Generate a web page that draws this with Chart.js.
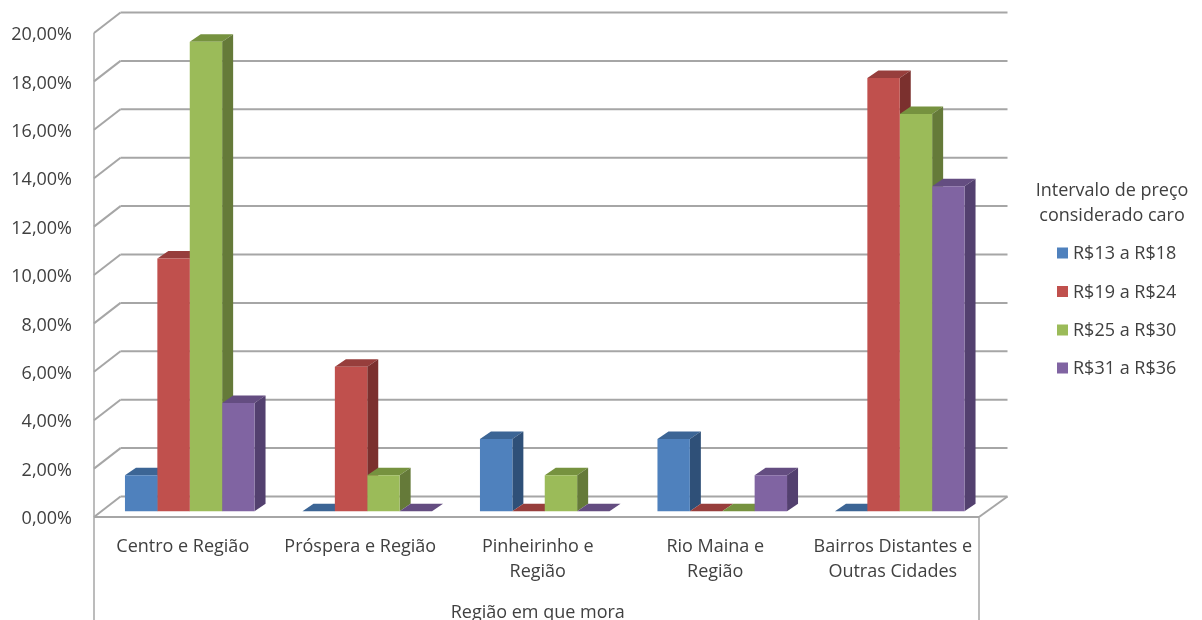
<!DOCTYPE html>
<html lang="pt-BR">
<head>
<meta charset="utf-8">
<title>Intervalo de preço considerado caro</title>
<script src="https://cdn.jsdelivr.net/npm/chart.js@4"></script>
<style>
  html, body { margin: 0; padding: 0; background: #fff; overflow: hidden; }
  canvas { display: block; }
</style>
</head>
<body>
<canvas id="chart" width="1202" height="620"></canvas>
<script>
const categories = [
  'Centro e Região',
  'Próspera e Região',
  ['Pinheirinho e', 'Região'],
  ['Rio Maina e', 'Região'],
  ['Bairros Distantes e', 'Outras Cidades']
];
const seriesNames = ['R$13 a R$18', 'R$19 a R$24', 'R$25 a R$30', 'R$31 a R$36'];
const r13a18 = [1.49, 0, 2.99, 2.99, 0];
const r19a24 = [10.45, 5.97, 0, 0, 17.91];
const r25a30 = [19.40, 1.49, 1.49, 0, 16.42];
const r31a36 = [4.48, 0, 0, 1.49, 13.43];
const seriesValues = [r13a18, r19a24, r25a30, r31a36];

const frontColors = ['#4f81bd', '#c0504d', '#9bbb59', '#8064a2'];
const topColors = ['#3c6595', '#973e3c', '#76923f', '#644d81'];
const sideColors = ['#2f5078', '#7b302e', '#657a39', '#53406f'];

const legendTitle = ['Intervalo de preço', 'considerado caro'];
const axisTitle = 'Região em que mora';

const textColor = '#404040';
const lineColor = '#a6a6a6';
const fontFamily = '"Open Sans", sans-serif';
const fontSize = 18;

// wall and floor depth, measured from the front axes
const wallDx = 26.5, wallDy = 20.5;
const wallRight = 979;
const chartBottom = 620;
// where the bars' front faces sit inside that depth, and the depth of a bar
const barShiftX = 7, barShiftY = 5.7;
const barDx = 11, barDy = 7.5;

function line(ctx, x1, y1, x2, y2) {
  ctx.beginPath();
  ctx.moveTo(x1, y1);
  ctx.lineTo(x2, y2);
  ctx.stroke();
}

function face(ctx, color, points) {
  ctx.fillStyle = color;
  ctx.beginPath();
  points.forEach((p, i) => i ? ctx.lineTo(p[0], p[1]) : ctx.moveTo(p[0], p[1]));
  ctx.closePath();
  ctx.fill();
}

const box3d = {
  id: 'box3d',
  beforeDatasetsDraw(chart) {
    const { ctx, scales: { x, y } } = chart;
    const left = x.left;
    const zero = y.getPixelForValue(0);

    // back wall gridlines and their diagonals on the left wall
    ctx.save();
    ctx.strokeStyle = lineColor;
    ctx.lineWidth = 2;
    y.ticks.forEach(t => {
      const py = y.getPixelForValue(t.value);
      line(ctx, left, py, left + wallDx, py - wallDy);
      line(ctx, left + wallDx, py - wallDy, wallRight + wallDx + 2, py - wallDy);
    });
    // floor and category frame
    line(ctx, left, zero, wallRight, zero);
    line(ctx, wallRight, zero, wallRight + wallDx + 2, zero - wallDy);
    ctx.lineWidth = 1.5;
    line(ctx, left, y.getPixelForValue(20), left, chartBottom);
    line(ctx, wallRight, zero, wallRight, chartBottom);
    ctx.restore();

    // top and side faces, left to right; the front faces go over them
    ctx.save();
    ctx.translate(barShiftX, -barShiftY);
    const metas = seriesValues.map((_, i) => chart.getDatasetMeta(i));
    categories.forEach((_, c) => {
      metas.forEach((meta, i) => {
        const bar = meta.data[c];
        const l = bar.x - bar.width / 2;
        const r = bar.x + bar.width / 2;
        face(ctx, topColors[i], [[l, bar.y], [r, bar.y], [r + barDx, bar.y - barDy], [l + barDx, bar.y - barDy]]);
        if (bar.base > bar.y) {
          face(ctx, sideColors[i], [[r, bar.y], [r + barDx, bar.y - barDy], [r + barDx, bar.base - barDy], [r, bar.base]]);
        }
      });
    });
    ctx.restore();

    // library draws the front faces inside the same shift
    ctx.save();
    ctx.translate(barShiftX, -barShiftY);
  },
  afterDatasetsDraw(chart) {
    chart.ctx.restore();
  },
  afterDraw(chart) {
    const ctx = chart.ctx;
    ctx.save();
    ctx.font = fontSize + 'px ' + fontFamily;
    ctx.fillStyle = textColor;
    ctx.textBaseline = 'middle';
    ctx.textAlign = 'center';
    ctx.fillText(legendTitle[0], 1112, 191);
    ctx.fillText(legendTitle[1], 1112, 216);
    ctx.textAlign = 'left';
    const rows = [254, 292.5, 331, 369];
    chart.data.datasets.forEach((ds, i) => {
      ctx.fillStyle = frontColors[i];
      ctx.fillRect(1057, rows[i] - 6.5, 11, 11);
      ctx.fillStyle = textColor;
      ctx.fillText(ds.label, 1073, rows[i]);
    });
    ctx.restore();
  }
};

new Chart(document.getElementById('chart'), {
  type: 'bar',
  data: {
    labels: categories,
    datasets: seriesNames.map((name, i) => ({
      label: name,
      data: seriesValues[i],
      backgroundColor: frontColors[i],
      borderWidth: 0,
      categoryPercentage: 0.73,
      barPercentage: 1,
      clip: false
    }))
  },
  plugins: [box3d],
  options: {
    responsive: false,
    animation: false,
    events: [],
    layout: { padding: { top: 33, left: 0, right: 220.5, bottom: 0 } },
    plugins: {
      legend: { display: false },
      tooltip: { enabled: false }
    },
    scales: {
      x: {
        afterFit(scale) { scale.height = chartBottom - 517; },
        grid: { display: false },
        border: { display: false },
        ticks: {
          autoSkip: false,
          maxRotation: 0,
          padding: 9,
          color: textColor,
          font: { family: fontFamily, size: fontSize, lineHeight: 1.39 }
        },
        title: {
          display: true,
          text: axisTitle,
          color: textColor,
          font: { family: fontFamily, size: fontSize },
          padding: { top: 0, bottom: -4 }
        }
      },
      y: {
        min: 0,
        max: 20,
        afterFit(scale) { scale.width = 94; },
        grid: { display: false, drawTicks: false },
        border: { display: false },
        ticks: {
          stepSize: 2,
          padding: 22,
          labelOffset: 2,
          color: textColor,
          font: { family: fontFamily, size: fontSize },
          callback: v => v.toFixed(2).replace('.', ',') + '%'
        }
      }
    }
  }
});
</script>
</body>
</html>
